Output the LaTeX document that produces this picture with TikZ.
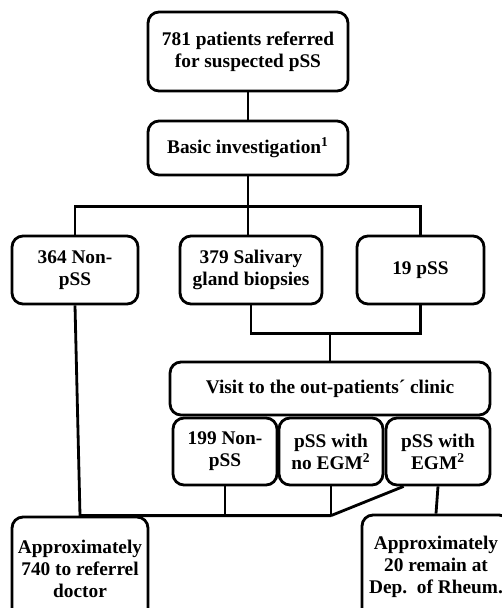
\documentclass[tikz,border=0pt]{standalone}
\usepackage{fontspec}
\setmainfont{Liberation Serif}
\begin{document}
\begin{tikzpicture}[
    x=0.02cm, y=-0.02cm,
    stage/.style={draw, line width=1.6pt, rounded corners=0.22cm, align=center, font=\fontsize{11}{12.5}\selectfont\bfseries, minimum width=#1, inner sep=2pt},
    link/.style={line width=1.6pt}
]
    \useasboundingbox (0,0) rectangle (502,608);
    \node[stage=4cm, minimum height=1.58cm] (referred) at (248,51.5) {781 patients referred\\for suspected pSS};
    \node[stage=4cm, minimum height=1.08cm] (basic) at (248,148) {Basic investigation\textsuperscript{1}};

    \node[stage=2.52cm, minimum height=1.36cm] (nonpss) at (75,270) {364 Non-\\pSS};
    \node[stage=2.84cm, minimum height=1.36cm] (biopsy) at (251,270) {379 Salivary\\gland biopsies};
    \node[stage=2.54cm, minimum height=1.36cm] (pss) at (420.5,270) {19 pSS};

    \node[stage=6.4cm, minimum height=1.06cm] (visit) at (330,388.5) {Visit to the out-patients´ clinic};
    \node[stage=2.08cm, minimum height=1.34cm] (nonpssb) at (225,451.5) {199 Non-\\pSS};
    \node[stage=2.08cm, minimum height=1.34cm] (noegm) at (331,451.5) {pSS with\\no EGM\textsuperscript{2}};
    \node[stage=2.08cm, minimum height=1.34cm] (egm) at (438,451.5) {pSS with\\EGM\textsuperscript{2}};

    \node[stage=2.72cm, minimum height=2.08cm] (doctor) at (80,569) {Approximately\\740 to referrel\\doctor};
    \node[stage=2.96cm, minimum height=2.08cm] (rheum) at (436,567) {Approximately\\20 remain at\\Dep.\ \ of Rheum.};

    % Split after basic investigation
    \draw[link] (referred) -- (basic);
    \draw[link] (basic.south) -- ++(0,30) coordinate (split);
    \draw[link] (nonpss.north) |- (split) -| (pss.north);
    \draw[link] (split) -- (split |- biopsy.north);

    % To the clinic
    \draw[link] (biopsy.south) -- ++(0,28) coordinate (merge) -| (pss.south);
    \draw[link] (visit.north |- merge) -- (visit.north);

    % Outcomes
    \coordinate (gather) at (noegm.south |- doctor.north);
    \draw[link] (nonpss.south) -- (doctor.north) -- (gather);
    \draw[link] (nonpssb.south) -- (nonpssb.south |- gather);
    \draw[link] (noegm.south) -- (gather);
    \draw[link] ([xshift=0.38cm]egm.south west) -- (gather);
    \draw[link] (egm.south) -- (rheum.north);
\end{tikzpicture}
\end{document}
